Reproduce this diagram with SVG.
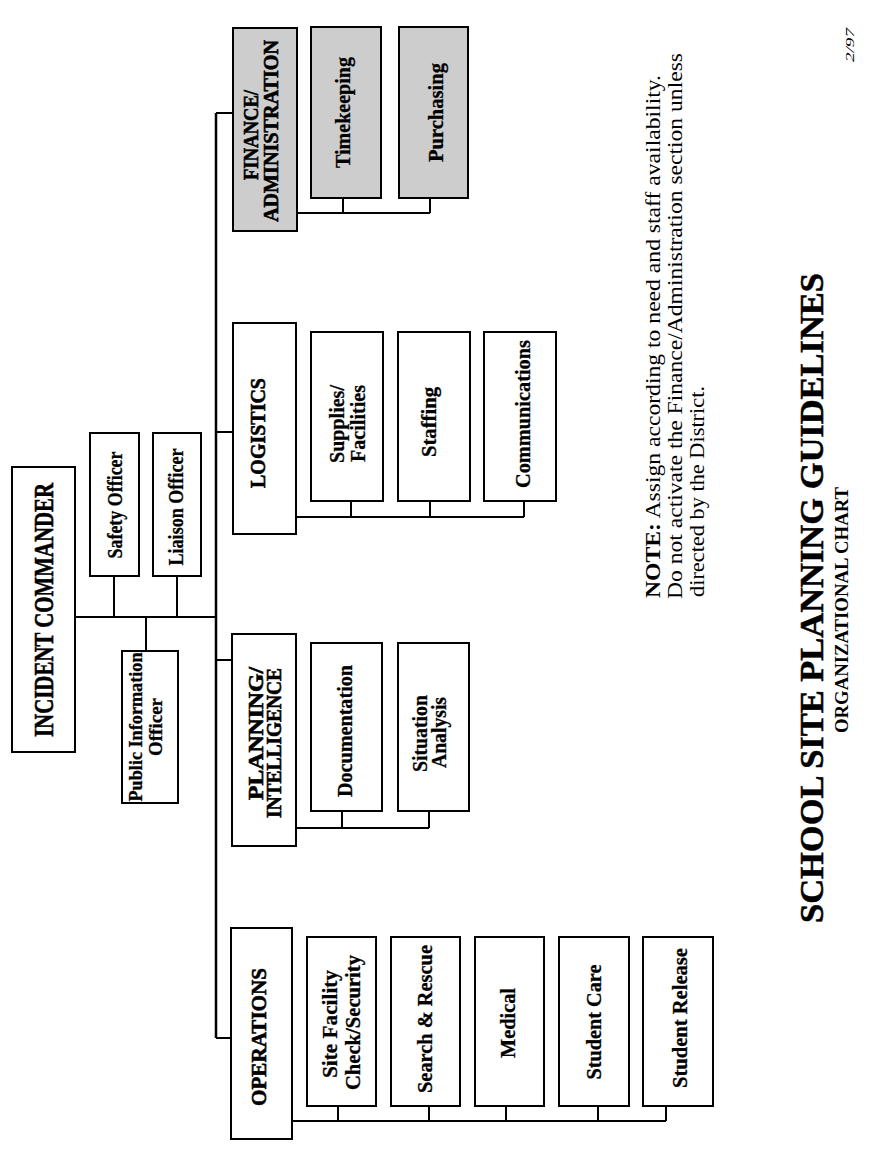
<svg xmlns="http://www.w3.org/2000/svg" width="869" height="1150" viewBox="0 0 869 1150">
<style>
.box{fill:#fff;stroke:#000;stroke-width:2}
.gray{fill:#cdcdcd}
.ln{stroke:#000;stroke-width:2;fill:none}
.main{stroke-width:2.5}
text{font-family:"Liberation Serif","Times New Roman",serif;fill:#000}
.hd{font-weight:bold;font-size:22px;stroke:#000;stroke-width:0.6}
.hd2{font-size:20px}
.lb{font-weight:bold;font-size:20.5px;stroke:#000;stroke-width:0.3}
.note{font-size:21px}
</style>
<rect width="869" height="1150" fill="#fff"/>
<g id="connectors">
<path class="ln" d="M75 617H216M114 576V617M177 576V617M146 617V651"/>
<path class="ln main" d="M216 113V1038"/>
<path class="ln" d="M216 113H233M216 432H233M216 660H232M216 1038H231"/>
<path class="ln" d="M297 213H430M343 198V213M430 198V213"/>
<path class="ln" d="M296 517H524M351 501V517M430 501V517M524 501V517"/>
<path class="ln" d="M296 828H429M342 811V828M429 811V828"/>
<path class="ln" d="M292 1121H666M338 1106V1121M429 1106V1121M506 1106V1121M598 1106V1121M666 1106V1121"/>
</g>
<g id="incident-commander"><rect class="box" x="12" y="467" width="63" height="285"/>
<text class="hd" transform="translate(53,610) rotate(-90)" text-anchor="middle" textLength="254" lengthAdjust="spacingAndGlyphs" style="font-size:27px">INCIDENT COMMANDER</text></g>
<g id="safety-officer"><rect class="box" x="90" y="433" width="49" height="143"/>
<text class="lb" transform="translate(122,505) rotate(-90)" text-anchor="middle" textLength="107" lengthAdjust="spacingAndGlyphs">Safety Officer</text></g>
<g id="liaison-officer"><rect class="box" x="153" y="433" width="48" height="143"/>
<text class="lb" transform="translate(183,507) rotate(-90)" text-anchor="middle" textLength="117" lengthAdjust="spacingAndGlyphs">Liaison Officer</text></g>
<g id="public-information-officer"><rect class="box" x="122" y="651" width="56" height="152"/>
<text class="lb" transform="translate(142,727) rotate(-90)" text-anchor="middle" textLength="149" lengthAdjust="spacingAndGlyphs" style="font-size:19px">Public Information</text>
<text class="lb" transform="translate(162,727) rotate(-90)" text-anchor="middle" textLength="58" lengthAdjust="spacingAndGlyphs" style="font-size:19px">Officer</text></g>
<g id="finance-administration"><rect class="box gray" x="233" y="28" width="64" height="203"/>
<text class="hd hd2" transform="translate(258,180) rotate(-90)" textLength="90" lengthAdjust="spacingAndGlyphs">FINANCE/</text>
<text class="hd hd2" transform="translate(278,131) rotate(-90)" text-anchor="middle" textLength="182" lengthAdjust="spacingAndGlyphs">ADMINISTRATION</text></g>
<g id="timekeeping"><rect class="box gray" x="311" y="27" width="70" height="171"/>
<text class="lb" transform="translate(350,112.5) rotate(-90)" text-anchor="middle" textLength="111" lengthAdjust="spacingAndGlyphs">Timekeeping</text></g>
<g id="purchasing"><rect class="box gray" x="399" y="27" width="69" height="171"/>
<text class="lb" transform="translate(443,112.5) rotate(-90)" text-anchor="middle" textLength="99" lengthAdjust="spacingAndGlyphs">Purchasing</text></g>
<g id="logistics"><rect class="box" x="233" y="323" width="63" height="211"/>
<text class="hd" transform="translate(265,433) rotate(-90)" text-anchor="middle" textLength="110" lengthAdjust="spacingAndGlyphs">LOGISTICS</text></g>
<g id="supplies-facilities"><rect class="box" x="311" y="332" width="72" height="169"/>
<text class="lb" transform="translate(344,463) rotate(-90)" textLength="78" lengthAdjust="spacingAndGlyphs">Supplies/</text>
<text class="lb" transform="translate(365,462) rotate(-90)" textLength="77" lengthAdjust="spacingAndGlyphs">Facilities</text></g>
<g id="staffing"><rect class="box" x="398" y="332" width="72" height="169"/>
<text class="lb" transform="translate(436,422) rotate(-90)" text-anchor="middle" textLength="70" lengthAdjust="spacingAndGlyphs">Staffing</text></g>
<g id="communications"><rect class="box" x="484" y="332" width="72" height="169"/>
<text class="lb" transform="translate(530,414) rotate(-90)" text-anchor="middle" textLength="148" lengthAdjust="spacingAndGlyphs">Communications</text></g>
<g id="planning-intelligence"><rect class="box" x="232" y="634" width="64" height="212"/>
<text class="hd hd2" transform="translate(263,800) rotate(-90)" textLength="133" lengthAdjust="spacingAndGlyphs">PLANNING/</text>
<text class="hd hd2" transform="translate(281,818) rotate(-90)" textLength="150" lengthAdjust="spacingAndGlyphs">INTELLIGENCE</text></g>
<g id="documentation"><rect class="box" x="311" y="643" width="71" height="168"/>
<text class="lb" transform="translate(352,731) rotate(-90)" text-anchor="middle" textLength="132" lengthAdjust="spacingAndGlyphs">Documentation</text></g>
<g id="situation-analysis"><rect class="box" x="398" y="643" width="71" height="168"/>
<text class="lb" transform="translate(427,733.5) rotate(-90)" text-anchor="middle" textLength="77" lengthAdjust="spacingAndGlyphs">Situation</text>
<text class="lb" transform="translate(446,732.5) rotate(-90)" text-anchor="middle" textLength="71" lengthAdjust="spacingAndGlyphs">Analysis</text></g>
<g id="operations"><rect class="box" x="231" y="928" width="61" height="211"/>
<text class="hd" transform="translate(266,1037) rotate(-90)" text-anchor="middle" textLength="138" lengthAdjust="spacingAndGlyphs">OPERATIONS</text></g>
<g id="site-facility-check-security"><rect class="box" x="307" y="937" width="69" height="169"/>
<text class="lb" transform="translate(337,1024) rotate(-90)" text-anchor="middle" textLength="108" lengthAdjust="spacingAndGlyphs">Site Facility</text>
<text class="lb" transform="translate(360,1022.5) rotate(-90)" text-anchor="middle" textLength="135" lengthAdjust="spacingAndGlyphs">Check/Security</text></g>
<g id="search-rescue"><rect class="box" x="391" y="937" width="69" height="169"/>
<text class="lb" transform="translate(432,1019) rotate(-90)" text-anchor="middle" textLength="148" lengthAdjust="spacingAndGlyphs">Search &amp; Rescue</text></g>
<g id="medical"><rect class="box" x="475" y="937" width="69" height="169"/>
<text class="lb" transform="translate(515,1023) rotate(-90)" text-anchor="middle" textLength="70" lengthAdjust="spacingAndGlyphs">Medical</text></g>
<g id="student-care"><rect class="box" x="559" y="937" width="70" height="169"/>
<text class="lb" transform="translate(601,1022) rotate(-90)" text-anchor="middle" textLength="115" lengthAdjust="spacingAndGlyphs">Student Care</text></g>
<g id="student-release"><rect class="box" x="643" y="937" width="70" height="169"/>
<text class="lb" transform="translate(687,1018) rotate(-90)" text-anchor="middle" textLength="140" lengthAdjust="spacingAndGlyphs">Student Release</text></g>
<g id="note">
<text class="note" transform="translate(660,598) rotate(-90)" textLength="523" lengthAdjust="spacingAndGlyphs"><tspan font-weight="bold">NOTE:</tspan>  Assign according to need and staff availability.</text>
<text class="note" transform="translate(682,599) rotate(-90)" textLength="546" lengthAdjust="spacingAndGlyphs">Do not activate the Finance/Administration section unless</text>
<text class="note" transform="translate(704,597) rotate(-90)" textLength="211" lengthAdjust="spacingAndGlyphs">directed by the District.</text>
</g>
<g id="title">
<text transform="translate(823,598) rotate(-90)" text-anchor="middle" font-weight="bold" stroke="#000" stroke-width="0.5" style="font-size:34px" textLength="650" lengthAdjust="spacingAndGlyphs">SCHOOL SITE PLANNING GUIDELINES</text>
<text transform="translate(848,610) rotate(-90)" text-anchor="middle" font-weight="bold" style="font-size:18px" textLength="246" lengthAdjust="spacingAndGlyphs">ORGANIZATIONAL CHART</text>
<text transform="translate(854,45) rotate(-90)" text-anchor="middle" font-style="italic" style="font-size:13px" textLength="34" lengthAdjust="spacingAndGlyphs">2/97</text>
</g>
</svg>
